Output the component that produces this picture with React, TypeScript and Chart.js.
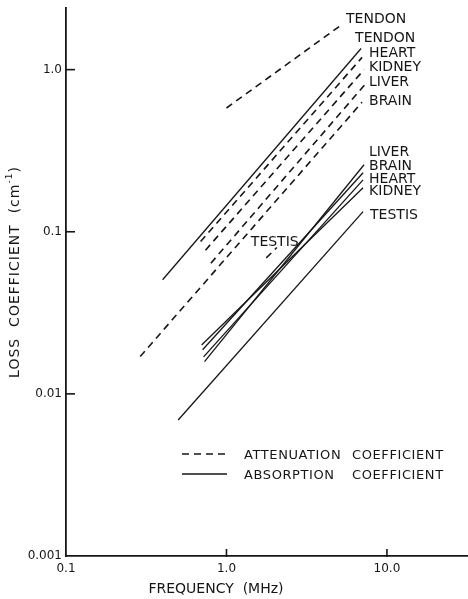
import React, { useEffect, useRef } from "react";
import { Chart, registerables } from "chart.js";

Chart.register(...registerables);

// ---- axes ----
const xTickValues = [0.1, 1, 10];
const xTickLabels = ["0.1", "1.0", "10.0"];
const yTickValues = [0.001, 0.01, 0.1, 1];
const yTickLabels = ["0.001", "0.01", "0.1", "1.0"];
const xMin = 0.1;
const xMax = 32;
const yMin = 0.001;
const yMax = 2.4;

// ---- attenuation coefficient (dashed) ----
const attenuationTissues = ["TENDON", "HEART", "KIDNEY", "LIVER", "BRAIN", "TESTIS"];
const attenuationFreqStart = [1.0, 0.69, 0.74, 0.8, 0.29, 1.77];
const attenuationFreqEnd = [5.25, 7.0, 7.2, 7.3, 7.0, 2.06];
const attenuationLossStart = [0.58, 0.087, 0.077, 0.064, 0.017, 0.069];
const attenuationLossEnd = [1.9, 1.19, 1.0, 0.81, 0.63, 0.08];

// ---- absorption coefficient (solid) ----
const absorptionTissues = ["TENDON", "LIVER", "BRAIN", "HEART", "KIDNEY", "TESTIS"];
const absorptionFreqStart = [0.4, 0.73, 0.71, 0.72, 0.7, 0.5];
const absorptionFreqEnd = [6.9, 7.2, 7.1, 7.1, 7.1, 7.1];
const absorptionLossStart = [0.0506, 0.0158, 0.0187, 0.0169, 0.02, 0.0069];
const absorptionLossEnd = [1.35, 0.259, 0.231, 0.209, 0.187, 0.133];

// label placement (pixel offsets from each line's upper end) - style only
const attenuationLabelOffsets = [[4, -5], [7, -4], [5, -2], [4, -2], [7, -1], [-26, -5]];
const absorptionLabelOffsets = [[-6, -10], [5, -12], [6, -6], [6, 0], [6, 4], [7, 4]];

const legendTexts = [["ATTENUATION", "COEFFICIENT"], ["ABSORPTION", "COEFFICIENT"]];
const xTitle = "FREQUENCY  (MHz)";
const yTitleMain = "LOSS  COEFFICIENT  (cm";
const yTitleSup = "-1";
const yTitleEnd = ")";

const INK = "#161616";
const FONT = "'DejaVu Sans', sans-serif";
const DASH = [7, 5];

type AnyObj = any;

const overlayPlugin = {
  id: "overlay",
  beforeDraw(chart: AnyObj) {
    const { ctx } = chart;
    ctx.save();
    ctx.fillStyle = "#ffffff";
    ctx.fillRect(0, 0, chart.width, chart.height);
    ctx.restore();
  },
  afterDraw(chart: AnyObj) {
    const { ctx, chartArea, scales } = chart;
    const xs = scales.x;
    const ys = scales.y;
    ctx.save();
    ctx.strokeStyle = INK;
    ctx.fillStyle = INK;

    // inward tick stubs
    ctx.lineWidth = 1.6;
    ctx.setLineDash([]);
    yTickValues.forEach((v) => {
      if (v === yMin) return;
      const py = ys.getPixelForValue(v);
      ctx.beginPath();
      ctx.moveTo(chartArea.left - 1, py);
      ctx.lineTo(chartArea.left + 9, py);
      ctx.stroke();
    });
    xTickValues.forEach((v) => {
      if (v === xMin) return;
      const px = xs.getPixelForValue(v);
      ctx.beginPath();
      ctx.moveTo(px, chartArea.bottom + 1);
      ctx.lineTo(px, chartArea.bottom - 7);
      ctx.stroke();
    });

    // series labels
    ctx.font = `14px ${FONT}`;
    ctx.textAlign = "left";
    ctx.textBaseline = "middle";
    const drawLabels = (names: string[], fx: number[], fy: number[], offs: number[][]) => {
      names.forEach((n, i) => {
        const px = xs.getPixelForValue(fx[i]);
        const py = ys.getPixelForValue(fy[i]);
        ctx.fillText(n, px + offs[i][0], py + offs[i][1]);
      });
    };
    drawLabels(attenuationTissues, attenuationFreqEnd, attenuationLossEnd, attenuationLabelOffsets);
    drawLabels(absorptionTissues, absorptionFreqEnd, absorptionLossEnd, absorptionLabelOffsets);

    // legend
    const lx0 = chartArea.left + 116;
    const lx1 = chartArea.left + 161;
    const ly = [chartArea.bottom - 102, chartArea.bottom - 82];
    ctx.lineWidth = 1.4;
    [DASH, []].forEach((d, i) => {
      ctx.setLineDash(d);
      ctx.beginPath();
      ctx.moveTo(lx0, ly[i]);
      ctx.lineTo(lx1, ly[i]);
      ctx.stroke();
    });
    ctx.setLineDash([]);
    ctx.font = `13px ${FONT}`;
    (ctx as AnyObj).letterSpacing = "0.6px";
    legendTexts.forEach((words, i) => {
      ctx.fillText(words[0], chartArea.left + 178, ly[i] + 2);
      ctx.fillText(words[1], chartArea.left + 286, ly[i] + 2);
    });

    // x title
    ctx.font = `14px ${FONT}`;
    (ctx as AnyObj).letterSpacing = "0px";
    ctx.textAlign = "center";
    ctx.fillText(xTitle, chartArea.left + 150, chartArea.bottom + 33);

    // y title (rotated)
    ctx.translate(chartArea.left - 51, (chartArea.top + chartArea.bottom) / 2 - 10);
    ctx.rotate(-Math.PI / 2);
    ctx.textAlign = "left";
    (ctx as AnyObj).letterSpacing = "1px";
    ctx.font = `14px ${FONT}`;
    const w1 = ctx.measureText(yTitleMain).width;
    ctx.font = `9px ${FONT}`;
    const w2 = ctx.measureText(yTitleSup).width;
    ctx.font = `14px ${FONT}`;
    const w3 = ctx.measureText(yTitleEnd).width;
    const total = w1 + w2 + w3;
    let x = -total / 2;
    ctx.fillText(yTitleMain, x, 0);
    x += w1;
    ctx.font = `9px ${FONT}`;
    ctx.fillText(yTitleSup, x, -5);
    x += w2;
    ctx.font = `14px ${FONT}`;
    ctx.fillText(yTitleEnd, x, 0);
    ctx.restore();
  },
};

function buildDatasets() {
  const ds: AnyObj[] = [];
  attenuationTissues.forEach((name, i) => {
    ds.push({
      label: `Attenuation ${name}`,
      data: [
        { x: attenuationFreqStart[i], y: attenuationLossStart[i] },
        { x: attenuationFreqEnd[i], y: attenuationLossEnd[i] },
      ],
      borderColor: INK,
      borderWidth: 1.6,
      borderDash: DASH,
      showLine: true,
      pointRadius: 0,
      fill: false,
    });
  });
  absorptionTissues.forEach((name, i) => {
    ds.push({
      label: `Absorption ${name}`,
      data: [
        { x: absorptionFreqStart[i], y: absorptionLossStart[i] },
        { x: absorptionFreqEnd[i], y: absorptionLossEnd[i] },
      ],
      borderColor: INK,
      borderWidth: 1.3,
      showLine: true,
      pointRadius: 0,
      fill: false,
    });
  });
  return ds;
}

export default function App() {
  const ref = useRef<HTMLCanvasElement>(null);
  useEffect(() => {
    document.body.style.margin = "0";
    const canvas = ref.current;
    if (!canvas) return;
    const chart = new Chart(canvas, {
      type: "scatter",
      data: { datasets: buildDatasets() },
      plugins: [overlayPlugin],
      options: {
        animation: false,
        responsive: false,
        devicePixelRatio: 1,
        layout: { padding: { top: 8, right: 0, left: 0, bottom: 0 } },
        plugins: { legend: { display: false }, tooltip: { enabled: false } },
        scales: {
          x: {
            type: "logarithmic",
            min: xMin,
            max: xMax,
            afterBuildTicks: (s: AnyObj) => {
              s.ticks = xTickValues.map((v) => ({ value: v }));
            },
            afterFit: (s: AnyObj) => {
              s.height = 43;
              s.paddingLeft = 0;
              s.paddingRight = 0;
            },
            ticks: {
              autoSkip: false,
              maxRotation: 0,
              padding: 6,
              color: INK,
              font: { family: FONT, size: 12 },
              callback: (v: AnyObj) => {
                const i = xTickValues.indexOf(Number(v));
                return i >= 0 ? xTickLabels[i] : "";
              },
            },
            grid: { display: true, drawOnChartArea: false, drawTicks: false },
            border: { display: true, color: INK, width: 1.8 },
          },
          y: {
            type: "logarithmic",
            min: yMin,
            max: yMax,
            afterBuildTicks: (s: AnyObj) => {
              s.ticks = yTickValues.map((v) => ({ value: v }));
            },
            afterFit: (s: AnyObj) => {
              s.width = 66;
              s.paddingTop = 0;
              s.paddingBottom = 0;
            },
            ticks: {
              autoSkip: false,
              padding: 4,
              color: INK,
              font: { family: FONT, size: 12 },
              callback: (v: AnyObj) => {
                const i = yTickValues.indexOf(Number(v));
                return i >= 0 ? yTickLabels[i] : "";
              },
            },
            grid: { display: true, drawOnChartArea: false, drawTicks: false },
            border: { display: true, color: INK, width: 1.8 },
          },
        },
      } as AnyObj,
    });
    return () => chart.destroy();
  }, []);
  return (
    <div style={{ width: 468, height: 599, background: "#fff" }}>
      <canvas ref={ref} width={468} height={599} style={{ display: "block" }} />
    </div>
  );
}
